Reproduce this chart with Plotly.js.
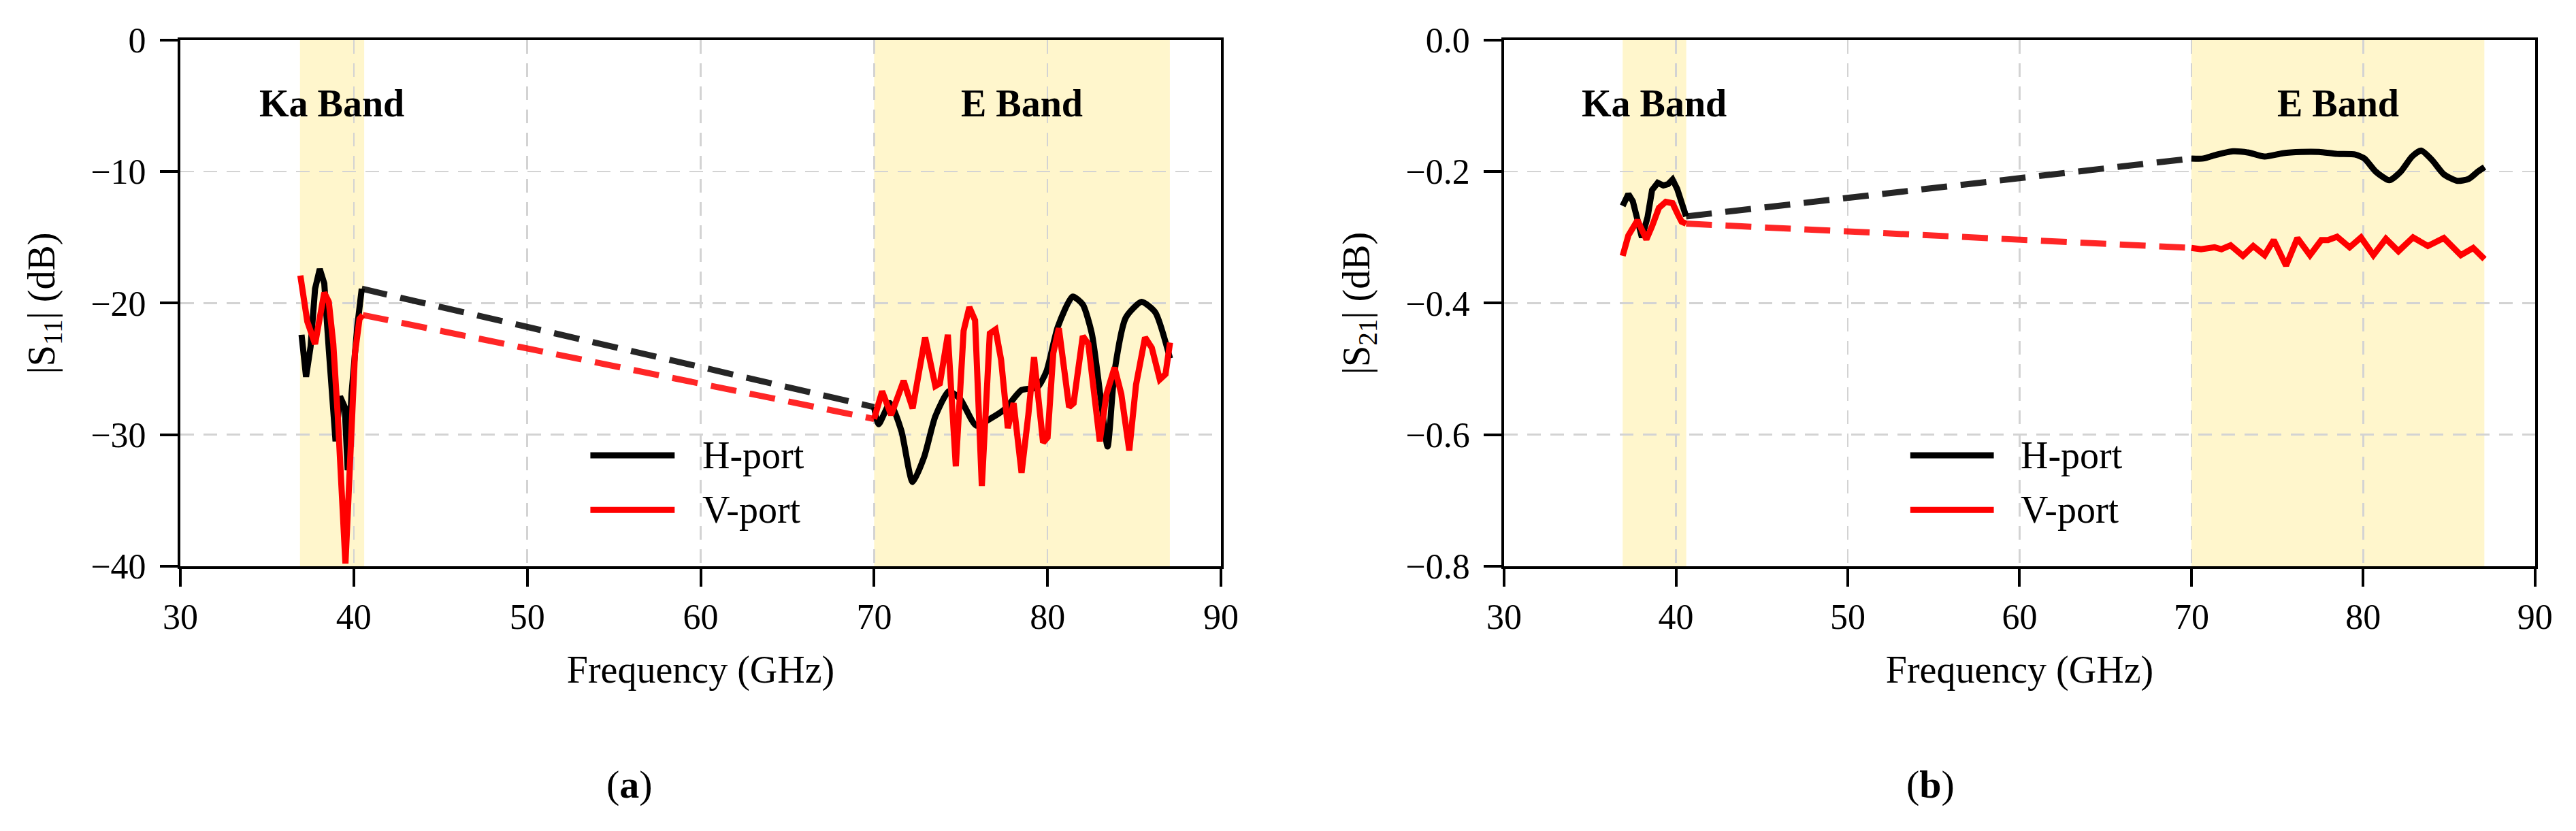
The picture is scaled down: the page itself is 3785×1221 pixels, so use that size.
<!DOCTYPE html>
<html>
<head>
<meta charset="utf-8">
<script src="https://cdn.plot.ly/plotly-3.0.1.min.js"></script>
<style>
  html, body { margin: 0; padding: 0; background: #fff; }
  #chart { width: 3785px; height: 1221px; }
</style>
</head>
<body>
<div id="chart"></div>
<script>
// bands (GHz)
var kaBand = [36.9, 40.6];
var eBand = [70.0, 87.05];

// (a) |S11| in dB, Ka band
var s11KaFreqH = [36.99, 37.25, 37.51, 37.77, 38.04, 38.3, 38.56, 38.76, 38.95, 39.21, 39.48, 39.65, 39.87, 40.2, 40.46];
var s11KaH = [-22.4, -25.6, -23.3, -18.9, -17.4, -18.5, -23.5, -27.8, -30.5, -27.1, -27.9, -32.7, -26.9, -21.8, -18.9];
var s11KaFreqV = [36.92, 37.32, 37.77, 38.04, 38.3, 38.56, 38.82, 39.08, 39.28, 39.52, 39.67, 39.87, 40.07, 40.33, 40.52];
var s11KaV = [-17.9, -21.4, -23.1, -21.4, -19.2, -19.9, -23.1, -28.6, -32.9, -39.8, -35.5, -28.6, -23.8, -21.2, -20.9];

// (a) |S11| in dB, E band
var s11EFreqH = [70.0, 70.26, 70.92, 71.57, 72.22, 72.88, 73.53, 74.31, 74.97, 75.88, 76.8, 77.58, 78.5, 79.41, 79.93,
                 80.59, 81.44, 82.03, 82.55, 83.07, 83.46, 83.86, 84.51, 85.42, 86.21, 87.06];
var s11EH = [-27.9, -29.2, -27.6, -29.7, -33.6, -31.7, -28.6, -26.7, -27.3, -29.3, -28.7, -28.0, -26.6, -26.4, -25.2,
             -21.8, -19.5, -20.1, -22.3, -27.3, -30.9, -25.2, -21.1, -19.9, -20.7, -24.2];
var s11EFreqV = [70.0, 70.46, 70.98, 71.7, 72.22, 72.94, 73.53, 73.79, 74.25, 74.71, 75.16, 75.49, 75.82, 76.21, 76.67,
                 77.0, 77.32, 77.71, 78.04, 78.5, 78.89, 79.22, 79.74, 80.0, 80.33, 80.65, 81.24, 81.5, 82.03, 82.35,
                 83.01, 83.4, 83.86, 84.25, 84.71, 85.1, 85.62, 86.01, 86.47, 86.8, 87.06];
var s11EV = [-28.8, -26.7, -28.5, -25.9, -28.0, -22.6, -26.3, -26.1, -22.4, -32.4, -22.1, -20.3, -21.3, -33.9, -22.3,
             -22.0, -24.3, -29.5, -27.6, -32.9, -28.5, -24.1, -30.6, -30.2, -23.8, -21.9, -27.9, -27.6, -22.5, -23.1,
             -30.5, -26.9, -24.9, -26.9, -31.2, -26.2, -22.6, -23.4, -25.8, -25.4, -23.0];

// (b) |S21| in dB, Ka band
var s21KaFreqH = [36.9, 37.23, 37.49, 37.76, 38.02, 38.35, 38.61, 38.94, 39.27, 39.54, 39.8, 40.07, 40.33, 40.59];
var s21KaH = [-0.252, -0.234, -0.245, -0.272, -0.300, -0.269, -0.228, -0.217, -0.221, -0.219, -0.212, -0.226, -0.248, -0.268];
var s21KaFreqV = [36.9, 37.23, 37.76, 38.02, 38.28, 38.61, 39.01, 39.41, 39.8, 40.13, 40.33, 40.59];
var s21KaV = [-0.328, -0.297, -0.274, -0.290, -0.303, -0.283, -0.255, -0.246, -0.248, -0.266, -0.276, -0.279];

// (b) |S21| in dB, E band
var s21EFreqH = [70.0, 70.69, 71.35, 72.41, 73.33, 74.26, 75.31, 76.37, 77.43, 78.48, 79.54, 80.07, 80.73, 81.52,
                 82.18, 82.84, 83.37, 84.03, 84.69, 85.48, 86.14, 86.67, 87.06];
var s21EH = [-0.180, -0.180, -0.175, -0.169, -0.171, -0.177, -0.172, -0.170, -0.170, -0.173, -0.174, -0.180, -0.200, -0.213,
             -0.200, -0.177, -0.168, -0.183, -0.204, -0.214, -0.211, -0.200, -0.193];
var s21EFreqV = [70.0, 70.56, 71.35, 71.75, 72.28, 73.0, 73.6, 74.26, 74.79, 75.51, 76.17, 76.9, 77.56, 77.95, 78.48,
                 79.21, 79.87, 80.59, 81.32, 82.05, 82.9, 83.76, 84.69, 85.68, 86.4, 87.06];
var s21EV = [-0.316, -0.318, -0.315, -0.318, -0.312, -0.328, -0.313, -0.327, -0.304, -0.343, -0.301, -0.327, -0.304, -0.304, -0.299,
             -0.315, -0.300, -0.327, -0.302, -0.321, -0.300, -0.313, -0.301, -0.327, -0.316, -0.333];

var portNames = ['H-port', 'V-port'];
var portColors = ['#000000', '#ff0000'];
var dashColors = ['rgba(0,0,0,0.85)', 'rgba(255,0,0,0.85)'];

var serif = 'Liberation Serif, Times New Roman, serif';
var LW = 9;

function last(a) { return a[a.length - 1]; }

// one port: solid Ka part, dashed jump, solid E part
function portTraces(kaF, kaV, eF, eV, idx, xa, ya, smoothE) {
  var base = { xaxis: xa, yaxis: ya, mode: 'lines', showlegend: false, hoverinfo: 'skip' };
  return [
    Object.assign({}, base, { x: kaF, y: kaV, line: { color: portColors[idx], width: LW } }),
    Object.assign({}, base, { x: [last(kaF), eF[0]], y: [last(kaV), eV[0]],
      line: { color: dashColors[idx], width: LW, dash: '38px,20px' } }),
    Object.assign({}, base, { x: eF, y: eV,
      line: smoothE ? { color: portColors[idx], width: LW, shape: 'spline', smoothing: 0.6 }
                    : { color: portColors[idx], width: LW } })
  ];
}

var data = [].concat(
  portTraces(s11KaFreqH, s11KaH, s11EFreqH, s11EH, 0, 'x', 'y', true),
  portTraces(s11KaFreqV, s11KaV, s11EFreqV, s11EV, 1, 'x', 'y', false),
  portTraces(s21KaFreqH, s21KaH, s21EFreqH, s21EH, 0, 'x2', 'y2', true),
  portTraces(s21KaFreqV, s21KaV, s21EFreqV, s21EV, 1, 'x2', 'y2', false)
);

function xAxis(domain, anchor) {
  return {
    domain: domain, anchor: anchor, range: [30, 90], dtick: 10, tick0: 30,
    showline: true, mirror: true, linecolor: '#000', linewidth: 4,
    ticks: 'outside', ticklen: 26, tickwidth: 4, tickcolor: '#000',
    showgrid: true, gridcolor: '#d3d3d3', gridwidth: 2.5, griddash: '20px,14px',
    zeroline: false,
    tickfont: { family: serif, size: 52, color: '#000' },
    title: { text: 'Frequency (GHz)', font: { family: serif, size: 56, color: '#000' }, standoff: 30 }
  };
}
function yAxis(anchor, range, dtick, fmt, title) {
  return {
    domain: [0.3186, 0.9517], anchor: anchor, range: range, dtick: dtick, tickformat: fmt,
    showline: true, mirror: true, linecolor: '#000', linewidth: 4,
    ticks: 'outside', ticklen: 26, tickwidth: 4, tickcolor: '#000', ticklabelstandoff: 10,
    showgrid: true, gridcolor: '#d3d3d3', gridwidth: 2.5, griddash: '20px,14px',
    zeroline: false,
    tickfont: { family: serif, size: 52, color: '#000' },
    title: { text: title, font: { family: serif, size: 56, color: '#000' }, standoff: 36 }
  };
}

var shapes = [];
var annotations = [];
[['x', 'y'], ['x2', 'y2']].forEach(function (ax) {
  [kaBand, eBand].forEach(function (b) {
    shapes.push({ type: 'rect', xref: ax[0], yref: ax[1] + ' domain', x0: b[0], x1: b[1], y0: 0, y1: 1,
                  fillcolor: '#fff6cc', line: { width: 0 }, layer: 'below' });
  });
  [['Ka Band', kaBand], ['E Band', eBand]].forEach(function (t) {
    annotations.push({ text: '<b>' + t[0] + '</b>', xref: ax[0], yref: ax[1] + ' domain',
                       x: (t[1][0] + t[1][1]) / 2, y: 0.88, xanchor: 'center', yanchor: 'middle',
                       showarrow: false, font: { family: serif, size: 56, color: '#000' } });
  });
  // legend drawn by hand so the sample lines have the reference length
  portNames.forEach(function (name, i) {
    var yy = [0.211, 0.107][i];
    shapes.push({ type: 'line', xref: ax[0] + ' domain', yref: ax[1] + ' domain',
                  x0: 0.394, x1: 0.475, y0: yy, y1: yy, line: { color: portColors[i], width: LW } });
    annotations.push({ text: name, xref: ax[0] + ' domain', yref: ax[1] + ' domain', x: 0.5, y: yy,
                       xanchor: 'left', yanchor: 'middle', showarrow: false,
                       font: { family: serif, size: 56, color: '#000' } });
  });
});
['a', 'b'].forEach(function (lab, i) {
  annotations.push({ text: '(<b>' + lab + '</b>)', xref: 'paper', yref: 'paper', x: [0.2444, 0.7493][i], y: 0.0557,
                     xanchor: 'center', yanchor: 'middle', showarrow: false,
                     font: { family: serif, size: 58, color: '#000' } });
});

var layout = {
  width: 3785, height: 1221,
  margin: { l: 0, r: 0, t: 0, b: 0 },
  paper_bgcolor: '#fff', plot_bgcolor: '#fff',
  showlegend: false,
  xaxis: xAxis([0.0700, 0.4740], 'y'),
  yaxis: yAxis('x', [-40, 0], 10, 'd', '|S<sub>11</sub>| (dB)'),
  xaxis2: xAxis([0.5839, 0.9841], 'y2'),
  yaxis2: yAxis('x2', [-0.8, 0], 0.2, '.1f', '|S<sub>21</sub>| (dB)'),
  shapes: shapes,
  annotations: annotations
};

Plotly.newPlot('chart', data, layout, { staticPlot: true });
</script>
</body>
</html>
